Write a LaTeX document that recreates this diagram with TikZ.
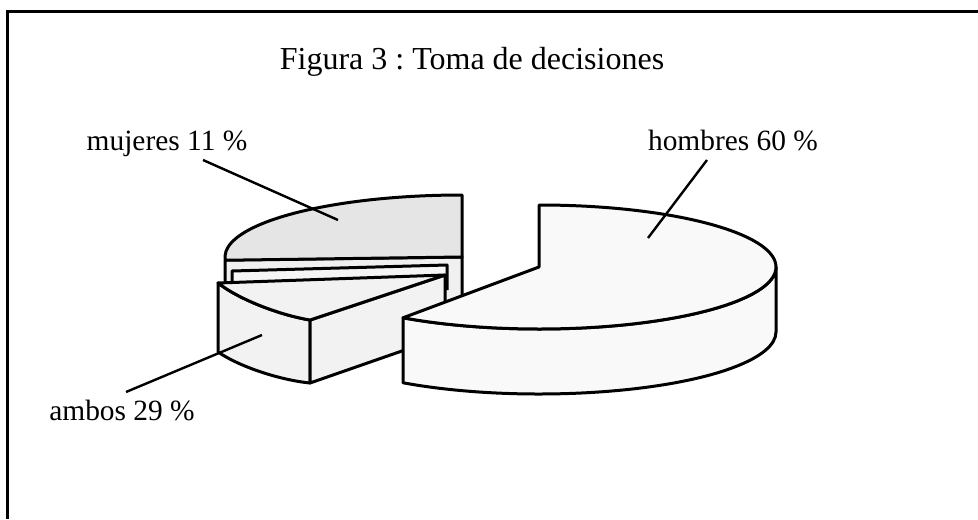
\documentclass[tikz,border=0pt]{standalone}
\usepackage{fontspec}
\setmainfont{Liberation Serif}
\frenchspacing

\begin{document}
\begin{tikzpicture}[
    x=0.5pt, y=-0.5pt,
    boxline/.style={line width=1.5pt},
    slice/.style={line width=1.5pt, draw=black, line join=round},
    pctlabel/.style={inner sep=0pt, anchor=base, font=\fontsize{14.7}{17}\selectfont},
    heading/.style={inner sep=0pt, anchor=base, font=\fontsize{16}{19}\selectfont},
    leader/.style={line width=1.2pt, -}
]
    \useasboundingbox (0,0) rectangle (978,519);
    \draw[boxline] (7,519) -- (7,12) -- (978,12);

    \node[heading] (title) at (472,70) {Figura 3 : Toma de decisiones};

    % mujeres (back piece)
    \draw[slice, fill=gray!12] (225,260) -- (462,257) -- (462,322) -- (225,325) -- cycle;
    \draw[slice, fill=gray!20] (462,257) -- (462,195)
        arc[start angle=-90, end angle=-183, x radius=237, y radius=62] -- cycle;
    \draw[slice, fill=gray!8] (232,290) -- (232,271) -- (447,265) -- (447,290);

    % ambos (front left piece)
    \draw[slice, fill=gray!10] (218,283) .. controls (240,300) and (280,315) .. (310,320)
        -- (310,383) .. controls (280,380) and (240,367) .. (218,352) -- cycle;
    \draw[slice, fill=gray!10] (310,320) -- (445,275) -- (445,336) -- (310,383) -- cycle;
    \draw[slice, fill=gray!10] (445,275) -- (218,283)
        .. controls (240,300) and (280,315) .. (310,320) -- cycle;

    % hombres (right piece)
    \draw[slice, fill=gray!5] (776,267)
        arc[start angle=0, end angle=125, x radius=237, y radius=62] -- ++(0,65)
        arc[start angle=125, end angle=0, x radius=237, y radius=62] -- cycle;
    \draw[slice, fill=gray!5] (539,267) -- (539,205)
        arc[start angle=-90, end angle=125, x radius=237, y radius=62] -- cycle;

    % labels
    \node[pctlabel] (muj) at (167,150) {mujeres 11 \%};
    \node[pctlabel] (hom) at (733,150) {hombres 60 \%};
    \node[pctlabel] (amb) at (122,420) {ambos 29 \%};

    \coordinate (mujtip) at (338,220);
    \coordinate (homtip) at (648,238);
    \coordinate (ambtip) at (262,335);

    \draw[leader] ([xshift=18pt,yshift=-5pt]muj.base) -- (mujtip);
    \draw[leader] ([xshift=-13pt,yshift=-5pt]hom.base) -- (homtip);
    \draw[leader] ([xshift=2pt,yshift=14pt]amb.base) -- (ambtip);
\end{tikzpicture}
\end{document}
